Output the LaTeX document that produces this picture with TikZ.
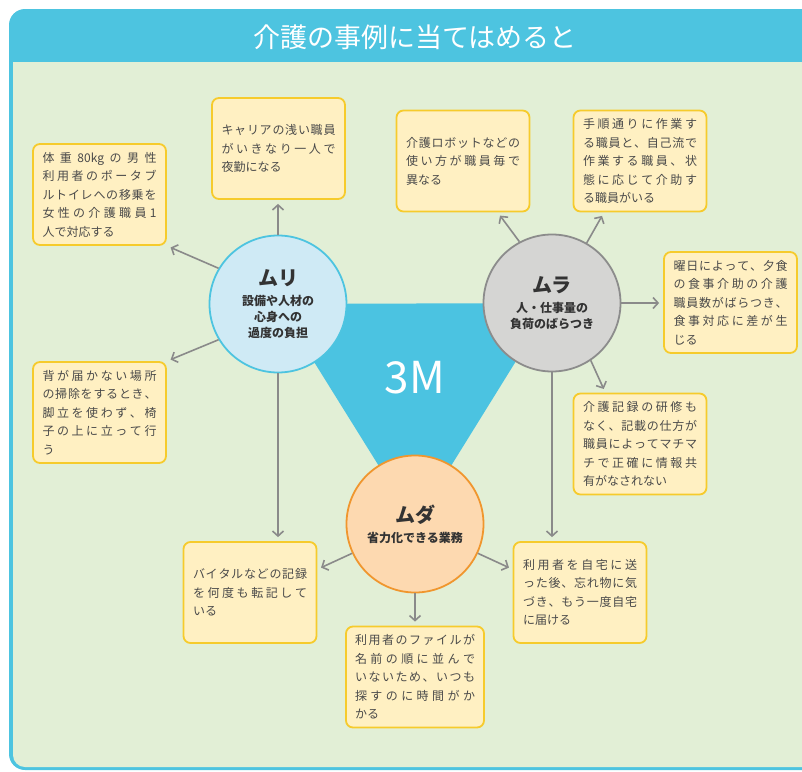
\documentclass[tikz,border=0pt]{standalone}
\usepackage{fontspec}
\setmainfont{Noto Sans CJK JP}
\usetikzlibrary{arrows.meta,calc}
\definecolor{frameblue}{HTML}{4DC4E0}
\definecolor{bggreen}{HTML}{E2EFD6}
\definecolor{boxfill}{HTML}{FFF0C2}
\definecolor{boxline}{HTML}{F6CB2C}
\definecolor{txtgray}{HTML}{4A4A4A}
\definecolor{murifill}{HTML}{CFEAF5}
\definecolor{muraline}{HTML}{8C8C8C}
\definecolor{murafill}{HTML}{D5D5D3}
\definecolor{mudafill}{HTML}{FDD9B0}
\definecolor{mudaline}{HTML}{F0962E}
\definecolor{arrgray}{HTML}{8A8A8A}
\definecolor{triblue}{HTML}{4BC3E1}
\ExplSyntaxOn
\NewDocumentCommand \jl { m } { \leavevmode \hbox_to_wd:nn { \hsize } { \tl_map_inline:nn {#1} { ##1 \hfil } \unskip } }
\ExplSyntaxOff
\tikzset{
  casebox/.style={draw=boxline, line width=1.8pt, fill=boxfill, rounded corners=7pt,
    minimum width=133pt, minimum height=101pt, text width=114pt, inner sep=0pt,
    align=left, font=\fontsize{12}{18.5}\selectfont, text=txtgray},
  mcirc/.style={circle, minimum size=137pt, inner sep=0pt, line width=1.8pt, align=center,
    text=black!80, font=\fontsize{12}{16}\selectfont\bfseries},
  arr/.style={draw=arrgray, line width=1.6pt, -{Straight Barb[length=5pt,width=11pt]}, shorten >=4pt},
}
\begin{document}
\begin{tikzpicture}[x=1pt,y=-1pt]
\useasboundingbox (0,0) rectangle (802,771);
\clip (0,0) rectangle (802,771);
% frame
\fill[frameblue, rounded corners=16pt] (9,9) rectangle (840,770);
\fill[bggreen] (13,62) [rounded corners=12pt] -- (13,767) -- (840,767) [sharp corners] -- (840,62) -- cycle;
\node[text=white, font=\fontsize{27}{30}\selectfont] (title) at (415,37) {介護の事例に当てはめると};
% triangle
\coordinate (cMuri) at (278,304);
\coordinate (cMura) at (552,303);
\coordinate (cMuda) at (415,524);
\fill[triblue] (cMuri) -- (cMura) -- (cMuda) -- cycle;
\node[text=white, font=\fontsize{44}{48}\selectfont] (threem) at (415,378) {3M};
% circles
\node[mcirc, draw=frameblue, fill=murifill] (muri) at (cMuri)
  {{\fontsize{20}{24}\selectfont ムリ}\\[4pt]設備や人材の\\心身への\\過度の負担};
\node[mcirc, draw=muraline, fill=murafill] (mura) at (cMura)
  {{\fontsize{20}{24}\selectfont ムラ}\\[4pt]人・仕事量の\\負荷のばらつき};
\node[mcirc, draw=mudaline, fill=mudafill] (muda) at (cMuda)
  {{\fontsize{20}{24}\selectfont ムダ}\\[4pt]省力化できる業務};
% boxes
\node[casebox] (boxA) at (99.5,194.5)
  {\jl{体重{80kg}の男性}\\\jl{利用者のポータブ}\\\jl{ルトイレへの移乗を}\\\jl{女性の介護職員1}\\人で対応する};
\node[casebox] (boxB) at (278.5,148.5)
  {\jl{キャリアの浅い職員}\\\jl{がいきなり一人で}\\夜勤になる};
\node[casebox] (boxC) at (463,161)
  {\jl{介護ロボットなどの}\\\jl{使い方が職員毎で}\\異なる};
\node[casebox] (boxD) at (640,161)
  {\jl{手順通りに作業す}\\\jl{る職員と、自己流で}\\\jl{作業する職員、状}\\\jl{態に応じて介助す}\\る職員がいる};
\node[casebox] (boxE) at (730.5,302.5)
  {\jl{曜日によって、夕食}\\\jl{の食事介助の介護}\\\jl{職員数がばらつき、}\\\jl{食事対応に差が生}\\じる};
\node[casebox] (boxF) at (99.5,412.5)
  {\jl{背が届かない場所}\\\jl{の掃除をするとき、}\\\jl{脚立を使わず、椅}\\\jl{子の上に立って行}\\う};
\node[casebox] (boxG) at (640,444)
  {\jl{介護記録の研修も}\\\jl{なく、記載の仕方が}\\\jl{職員によってマチマ}\\\jl{チで正確に情報共}\\有がなされない};
\node[casebox] (boxH) at (250,592.5)
  {\jl{バイタルなどの記録}\\\jl{を何度も転記して}\\いる};
\node[casebox] (boxI) at (580,592.5)
  {\jl{利用者を自宅に送}\\\jl{った後、忘れ物に気}\\\jl{づき、もう一度自宅}\\に届ける};
\node[casebox, minimum width=138pt, text width=120pt] (boxJ) at (415,677)
  {\jl{利用者のファイルが}\\\jl{名前の順に並んで}\\\jl{いないため、いつも}\\\jl{探すのに時間がか}\\かる};
% arrows
\draw[arr] (muri.north) -- (muri.north |- boxB.south);
\draw[arr] (muri.149) -- (boxA.south east);
\draw[arr] (muri.211) -- (boxF.north east);
\draw[arr] (muri.south) -- (muri.south |- boxH.north);
\draw[arr] (mura.118) -- (boxC.-56);
\draw[arr] (mura.60) -- (boxD.235);
\draw[arr] (mura.east) -- (mura.east -| boxE.west);
\draw[arr] (mura.-56) -- (boxG.124);
\draw[arr] (mura.south) -- (mura.south |- boxI.north);
\draw[arr] (muda.205) -- (boxH.19);
\draw[arr] (muda.-25) -- (boxI.161);
\draw[arr] (muda.south) -- (boxJ.north);
\end{tikzpicture}
\end{document}
